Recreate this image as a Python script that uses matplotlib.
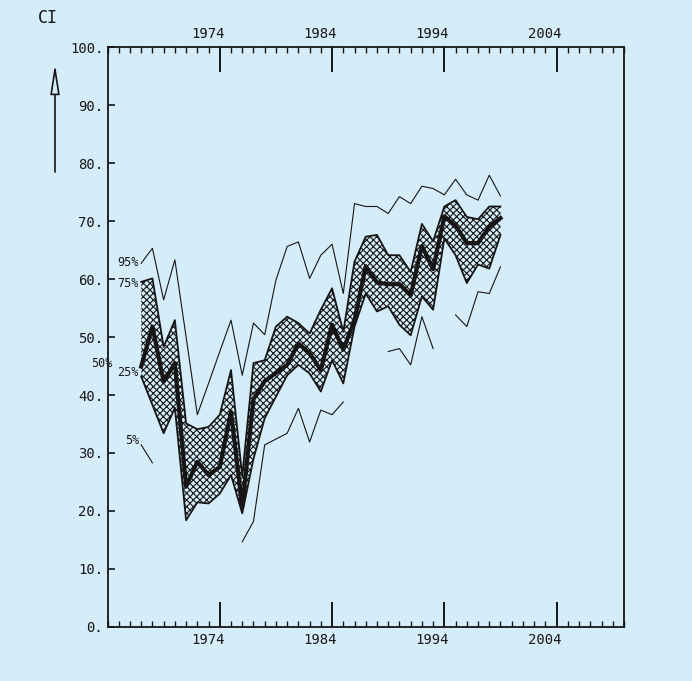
import numpy as np
import matplotlib
matplotlib.use('Agg')
import matplotlib.pyplot as plt
from matplotlib.ticker import FixedLocator, FixedFormatter, MultipleLocator
from matplotlib.patches import FancyArrowPatch
import matplotlib.transforms as mtransforms

# ---------------- data ----------------
years = list(range(1967, 2000))
p50 = [44.9, 51.8, 42.3, 45.5, 24.2, 28.5, 26.2, 27.6, 37.1, 20.7,
       39.3, 42.4, 43.8, 45.2, 48.9, 47.2, 44.3, 52.1, 47.8, 52.9,
       62.2, 59.4, 59.1, 59.1, 57.2, 65.7, 61.7, 70.8, 69.2, 66.2,
       66.2, 69.0, 70.5]
p75 = [59.5, 60.1, 48.3, 52.9, 35.1, 34.1, 34.5, 36.6, 44.3, 26.0,
       45.5, 46.0, 51.8, 53.5, 52.4, 50.6, 54.7, 58.4, 50.9, 63.0,
       67.3, 67.6, 64.1, 64.1, 61.2, 69.5, 66.5, 72.5, 73.6, 70.7,
       70.3, 72.5, 72.5]
p25 = [43.2, 38.3, 33.4, 37.8, 18.4, 21.5, 21.3, 23.0, 26.2, 19.6,
       29.0, 36.0, 39.7, 43.4, 45.2, 43.7, 40.6, 46.0, 42.0, 51.8,
       57.5, 54.4, 55.3, 52.1, 50.3, 57.0, 54.7, 67.0, 64.1, 59.3,
       62.5, 61.8, 67.6]
p95 = [62.7, 65.3, 56.4, 63.3, 50.0, 36.6, 42.0, 47.5, 52.9, 43.4,
       52.4, 50.4, 59.8, 65.6, 66.4, 60.1, 64.1, 66.0, 57.5, 73.0,
       72.5, 72.5, 71.3, 74.2, 73.0, 76.0, 75.6, 74.5, 77.2, 74.5,
       73.6, 77.9, 74.3]
p5 = [31.4, 28.3, None, None, None, None, None, None, None, 14.7,
      18.2, 31.4, 32.4, 33.4, 37.7, 31.9, 37.4, 36.6, 38.8, None,
      None, None, 47.5, 48.0, 45.2, 53.5, 48.0, None, 53.8, 51.8,
      57.8, 57.5, 62.1]

major_years = [1974, 1984, 1994, 2004]
major_year_labels = ["1974", "1984", "1994", "2004"]
y_ticks = [0, 10, 20, 30, 40, 50, 60, 70, 80, 90, 100]
y_tick_labels = ["0.", "10.", "20.", "30.", "40.", "50.", "60.", "70.", "80.", "90.", "100."]
pct_labels = ["95%", "75%", "50%", "25%", "5%"]
pct_label_y = [62.9, 59.3, 45.5, 43.8, 32.1]
y_title = "CI"

# ---------------- style ----------------
BG = '#d5ecf9'
INK = '#161616'
plt.rcParams['font.family'] = ['DejaVu Sans Mono', 'DejaVu Sans']
plt.rcParams['hatch.linewidth'] = 0.8

W, H = 692, 681
fig = plt.figure(figsize=(W / 100, H / 100), dpi=100, facecolor=BG)
ax = fig.add_axes([107.5 / W, 54 / H, 516.5 / W, 580 / H])
ax.set_facecolor(BG)
ax.set_xlim(1964, 2010)
ax.set_ylim(0, 100)

p5_arr = np.array([np.nan if v is None else v for v in p5], dtype=float)

# hatched inter-quartile band
ax.fill_between(years, p25, p75, facecolor=BG, edgecolor=INK,
                hatch='xxxxx', linewidth=0, zorder=2)
ax.plot(years, p75, color=INK, lw=1.3, zorder=3)
ax.plot(years, p25, color=INK, lw=1.3, zorder=3)
ax.plot(years, p50, color=INK, lw=3.0, zorder=4)
ax.plot(years, p95, color=INK, lw=0.8, zorder=3)
ax.plot(years, p5_arr, color=INK, lw=0.8, zorder=3)

# percentile labels
for lab, yv in zip(pct_labels, pct_label_y):
    xpos = 1964.45 if lab == "50%" else 1966.8
    ax.text(xpos, yv, lab, ha='right', va='center', fontsize=8.5,
            color=INK, clip_on=False, zorder=5)

# x axis: ticks top and bottom, every year, long major ticks
ax.xaxis.set_major_locator(FixedLocator(major_years))
ax.xaxis.set_major_formatter(FixedFormatter(major_year_labels))
ax.xaxis.set_minor_locator(MultipleLocator(1))
ax.tick_params(axis='x', which='major', direction='in', length=18, width=1.4,
               top=True, bottom=True, labeltop=True, labelbottom=True,
               pad=4, labelsize=10, colors=INK)
ax.tick_params(axis='x', which='minor', direction='in', length=4.5, width=1.0,
               top=True, bottom=True, colors=INK)

off = mtransforms.ScaledTranslation(-12 / 100, 0, fig.dpi_scale_trans)
for t in ax.xaxis.get_major_ticks():
    t.label1.set_transform(t.label1.get_transform() + off)
    t.label2.set_transform(t.label2.get_transform() + off)

# y axis
ax.yaxis.set_major_locator(FixedLocator(y_ticks))
ax.yaxis.set_major_formatter(FixedFormatter(y_tick_labels))
ax.tick_params(axis='y', which='major', direction='in', length=5, width=1.2,
               left=True, right=False, pad=3, labelsize=10, colors=INK)

for s in ax.spines.values():
    s.set_linewidth(1.3)
    s.set_color(INK)

# arrow and CI title
arrow = FancyArrowPatch((55 / W, 1 - 172 / H), (55 / W, 1 - 64 / H),
                        transform=fig.transFigure,
                        arrowstyle='-|>,head_length=1.8,head_width=0.28',
                        mutation_scale=10, facecolor=BG, edgecolor=INK,
                        lw=1.2, shrinkA=0, shrinkB=0)
fig.add_artist(arrow)
fig.text(38 / W, 1 - 18 / H, y_title, fontsize=12, ha='left', va='center', color=INK)

fig.savefig('out.png', dpi=100, facecolor=BG)
